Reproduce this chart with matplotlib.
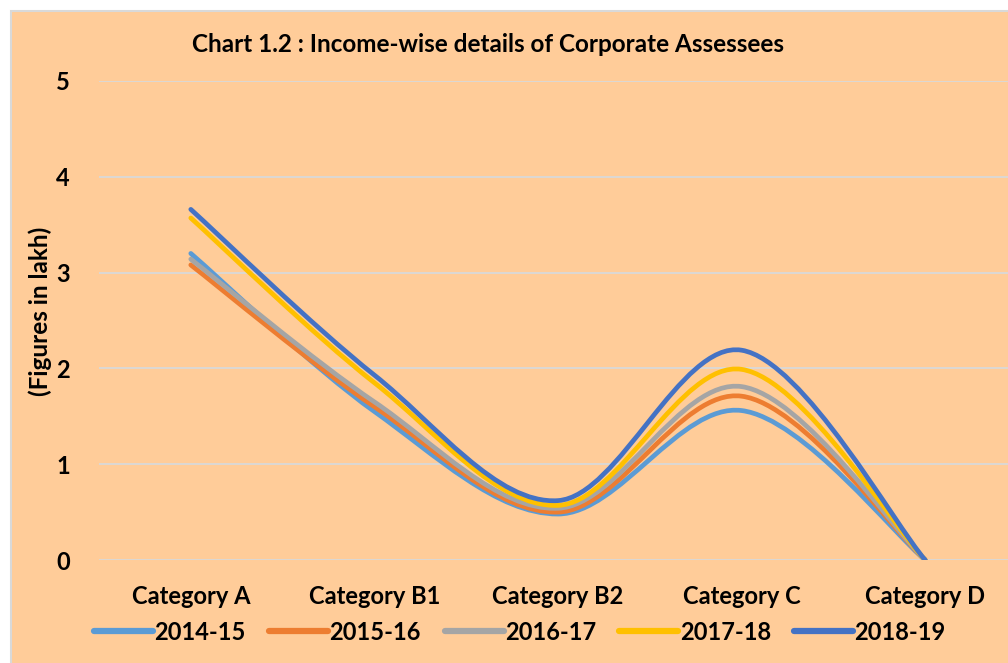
import matplotlib
matplotlib.use('Agg')
import matplotlib.pyplot as plt
from matplotlib.path import Path
from matplotlib.patches import PathPatch, Rectangle
from matplotlib.lines import Line2D


# =========================
# data
# =========================
categories = ['Category A', 'Category B1', 'Category B2', 'Category C', 'Category D']
years = ['2014-15', '2015-16', '2016-17', '2017-18', '2018-19']

v_2014_15 = [3.20, 1.55, 0.48, 1.56, 0.0]
v_2015_16 = [3.08, 1.60, 0.50, 1.71, 0.0]
v_2016_17 = [3.14, 1.65, 0.54, 1.81, 0.0]
v_2017_18 = [3.57, 1.85, 0.57, 1.99, 0.0]
v_2018_19 = [3.66, 1.93, 0.62, 2.19, 0.0]

series = [v_2014_15, v_2015_16, v_2016_17, v_2017_18, v_2018_19]
colors = ['#5B9BD5', '#ED7D31', '#A5A5A5', '#FFC000', '#4472C4']

peach = '#FFCC99'
grid_c = '#D9D9D9'

plt.rcParams['font.family'] = ['Lato', 'DejaVu Sans']
plt.rcParams['font.weight'] = 'bold'


# =========================
# Excel style smooth line -> bezier path
# =========================
def smooth_path(xs, ys):
    pts = list(zip(xs, ys))
    n = len(pts)
    verts = [pts[0]]
    codes = [Path.MOVETO]
    for i in range(n - 1):
        p0 = pts[max(i - 1, 0)]
        p1 = pts[i]
        p2 = pts[i + 1]
        p3 = pts[min(i + 2, n - 1)]
        c1 = (p1[0] + (p2[0] - p0[0]) / 6, p1[1] + (p2[1] - p0[1]) / 6)
        c2 = (p2[0] - (p3[0] - p1[0]) / 6, p2[1] - (p3[1] - p1[1]) / 6)
        verts += [c1, c2, p2]
        codes += [Path.CURVE4] * 3
    return Path(verts, codes)


fig = plt.figure(figsize=(10.08, 6.63), dpi=100)
fig.patch.set_facecolor('white')
fig.patches.append(Rectangle((11 / 1008, -0.02), 1.0, (663 - 11) / 663 + 0.02,
                             transform=fig.transFigure, facecolor=peach,
                             edgecolor=grid_c, lw=1.5, zorder=-5))

ax = fig.add_axes([99 / 1008, 103 / 663, 918 / 1008, 479 / 663])
ax.set_facecolor('none')
ax.set_zorder(2)

x = list(range(len(categories)))
for vals, c in zip(series, colors):
    ax.add_patch(PathPatch(smooth_path(x, vals), facecolor='none', edgecolor=c,
                           lw=3.4, capstyle='round', joinstyle='round', zorder=3))

ax.set_xlim(-0.5, 4.5)
ax.set_ylim(0, 5)
ax.set_yticks([0, 1, 2, 3, 4, 5])
ax.set_xticks(x)
ax.set_xticklabels(categories)
ax.tick_params(axis='both', length=0, labelsize=17)
ax.tick_params(axis='x', pad=18)
ax.tick_params(axis='y', pad=21)
ax.yaxis.grid(True, color=grid_c, lw=1.3)
ax.set_axisbelow(True)
for s in ax.spines.values():
    s.set_visible(False)

fig.text(488 / 1008, 1 - 45 / 663, 'Chart 1.2 : Income-wise details of Corporate Assessees',
         ha='center', va='center', fontsize=17.5, fontweight='bold')
fig.text(40 / 1008, 1 - 311 / 663, '(Figures in lakh)', rotation=90,
         ha='center', va='center', fontsize=17.5, fontweight='bold')

handles = [Line2D([], [], color=c, lw=4.5, solid_capstyle='round') for c in colors]
fig.legend(handles, years, loc='center', bbox_to_anchor=(520 / 1008, 1 - 632 / 663),
           ncol=5, frameon=False, fontsize=17, handlelength=2.5,
           handletextpad=0.05, columnspacing=1.0)

fig.savefig('out.png', dpi=100)
